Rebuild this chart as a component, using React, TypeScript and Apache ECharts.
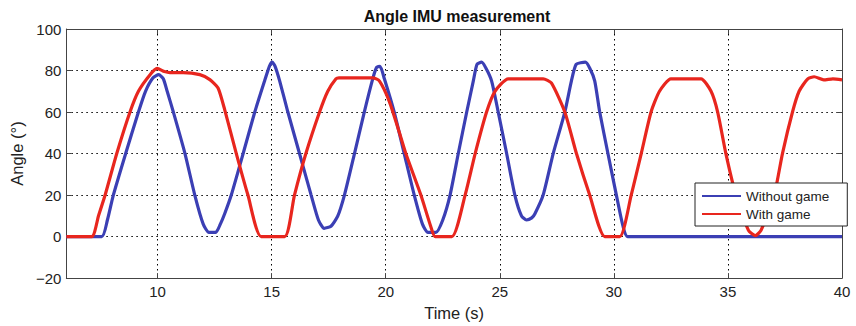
import React, { useEffect, useRef } from "react";
import * as echarts from "echarts";

const xTicks = [10, 15, 20, 25, 30, 35, 40];
const yTicks = [-20, 0, 20, 40, 60, 80, 100];

const withoutGame: [number, number][] = [
  [6, 0], [7.55, 0], [7.8, 8], [8.06, 20], [8.6, 40], [9.16, 60], [9.47, 70], [9.8, 76.5], [10.05, 78], [10.25, 76],
  [10.42, 70], [10.69, 60], [11.2, 40], [11.63, 20], [12.0, 6], [12.25, 2], [12.55, 2], [12.75, 6], [12.94, 11],
  [13.23, 20], [13.75, 40], [14.26, 60], [14.69, 75], [14.9, 82], [15.02, 84], [15.15, 82], [15.35, 75], [15.71, 60],
  [16.22, 40], [16.73, 20], [17.05, 8], [17.3, 4], [17.6, 5], [17.9, 10], [18.19, 20], [18.63, 40], [19.06, 60],
  [19.43, 76], [19.6, 81.5], [19.75, 82], [19.94, 76], [20.37, 60], [20.81, 40], [21.25, 20], [21.61, 6], [21.85, 2],
  [22.2, 2], [22.5, 8], [22.82, 20], [23.18, 40], [23.55, 60], [23.84, 75], [24.0, 83], [24.2, 84], [24.4, 81],
  [24.64, 75], [24.93, 60], [25.3, 40], [25.66, 20], [25.95, 10], [26.17, 8], [26.4, 9], [26.54, 11], [26.9, 20],
  [27.34, 40], [27.85, 60], [28.14, 75], [28.35, 83], [28.75, 84], [28.95, 81], [29.16, 75], [29.38, 60], [29.74, 40],
  [30.11, 20], [30.4, 5], [30.6, 0], [40, 0],
];

const withGame: [number, number][] = [
  [6, 0], [7.11, 0], [7.41, 10], [7.7, 20], [8.21, 40], [8.79, 60], [9.16, 70], [9.67, 78], [9.98, 81], [10.3, 79.5],
  [10.54, 79], [11.12, 79], [11.85, 78], [12.29, 75.6], [12.65, 71.6], [12.94, 61.2], [13.45, 40], [13.96, 20],
  [14.54, 0], [15.57, 0], [16.0, 20], [16.5, 40], [17.1, 60], [17.46, 70], [17.82, 76], [17.95, 76.5], [19.43, 76.5],
  [19.72, 75], [20.16, 65], [20.6, 50], [20.88, 40], [21.54, 20], [21.97, 5], [22.17, 0], [22.9, 0], [23.48, 20],
  [23.92, 40], [24.42, 60], [24.79, 70], [25.37, 76], [26.9, 76], [27.26, 74], [27.85, 60], [28.36, 40], [28.94, 20],
  [29.6, 0], [30.26, 0], [30.76, 20], [31.2, 40], [31.63, 60], [32.0, 70], [32.5, 76], [33.82, 76], [34.26, 70],
  [34.55, 60], [34.91, 40], [35.35, 20], [35.9, 3], [36.2, 0.5], [36.45, 3], [37.03, 20], [37.39, 40], [37.83, 60],
  [38.12, 70], [38.5, 76], [38.78, 77], [39.2, 75.5], [39.6, 76], [40, 75.5],
];

const BLUE = "#3b3fb4";
const RED = "#e8261e";
const FONT = "Liberation Sans, Arial, sans-serif";

export default function App() {
  const ref = useRef<HTMLDivElement>(null);
  useEffect(() => {
    if (!ref.current) return;
    const chart = echarts.init(ref.current, null, { renderer: "svg" });
    const dotted = { color: "#000", width: 1, type: [1.5, 3.5] as any };
    chart.setOption({
      animation: false,
      backgroundColor: "#fff",
      textStyle: { fontFamily: FONT },
      title: {
        text: "Angle IMU measurement",
        left: 452,
        textAlign: "center",
        top: 3,
        textStyle: { fontSize: 16, fontWeight: "bold", color: "#111", fontFamily: FONT },
      },
      grid: { left: 63, right: 14, top: 29, bottom: 45 },
      legend: {
        orient: "vertical",
        left: 695,
        top: 183,
        width: 140,
        backgroundColor: "#fff",
        borderColor: "#222",
        borderWidth: 1,
        padding: [5, 18, 4, 7],
        itemWidth: 39,
        itemHeight: 2,
        itemGap: 2,
        icon: "rect",
        textStyle: { fontSize: 13.5, color: "#222", lineHeight: 16, fontFamily: FONT },
        data: ["Without game", "With game"],
      },
      xAxis: [
        {
          type: "value",
          min: 6,
          max: 40,
          name: "Time (s)",
          nameLocation: "middle",
          nameGap: 22,
          nameTextStyle: { fontSize: 16.5, color: "#222", fontFamily: FONT },
          axisLine: { show: true, onZero: false, lineStyle: { color: "#444", width: 1 } },
          axisTick: { show: true, inside: true, length: 5, lineStyle: { color: "#444" } },
          axisLabel: {
            fontSize: 15,
            color: "#222",
            margin: 6,
            showMinLabel: false,
            formatter: (v: number) => (xTicks.includes(v) ? String(v) : ""),
          },
          splitLine: { show: true, lineStyle: dotted },
        },
        {
          type: "value",
          position: "top",
          min: 6,
          max: 40,
          axisLine: { show: true, onZero: false, lineStyle: { color: "#444", width: 1 } },
          axisTick: { show: true, inside: true, length: 5, lineStyle: { color: "#444" } },
          axisLabel: { show: false },
          splitLine: { show: false },
        },
      ],
      yAxis: [
        {
          type: "value",
          min: -20,
          max: 100,
          interval: 20,
          name: "Angle (°)",
          nameLocation: "middle",
          nameGap: 40,
          nameTextStyle: { fontSize: 16.5, color: "#222", fontFamily: FONT },
          axisLine: { show: true, onZero: false, lineStyle: { color: "#444", width: 1 } },
          axisTick: { show: true, inside: true, length: 5, lineStyle: { color: "#444" } },
          axisLabel: {
            fontSize: 15,
            color: "#222",
            margin: 5,
            formatter: (v: number) => (yTicks.includes(v) ? (v < 0 ? "\u2212" + Math.abs(v) : String(v)) : ""),
          },
          splitLine: { show: true, lineStyle: dotted },
        },
        {
          type: "value",
          position: "right",
          min: -20,
          max: 100,
          interval: 20,
          axisLine: { show: true, onZero: false, lineStyle: { color: "#444", width: 1 } },
          axisTick: { show: true, inside: true, length: 5, lineStyle: { color: "#444" } },
          axisLabel: { show: false },
          splitLine: { show: false },
        },
      ],
      series: [
        {
          name: "Without game",
          type: "line",
          data: withoutGame,
          showSymbol: false,
          symbol: "none",
          smooth: 0.2,
          color: BLUE,
          lineStyle: { color: BLUE, width: 3.2 },
        },
        {
          name: "With game",
          type: "line",
          data: withGame,
          showSymbol: false,
          symbol: "none",
          smooth: 0.2,
          color: RED,
          lineStyle: { color: RED, width: 3.2 },
        },
      ],
    });
    return () => chart.dispose();
  }, []);
  return <div ref={ref} style={{ width: 856, height: 326, position: "absolute", left: 0, top: 0 }} />;
}
